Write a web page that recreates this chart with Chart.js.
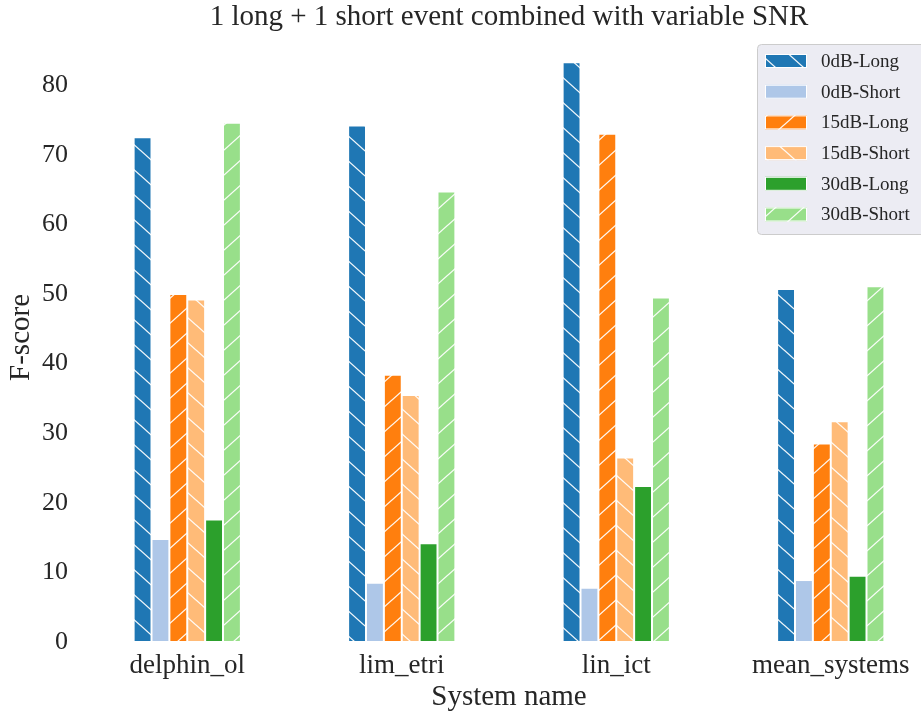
<!DOCTYPE html>
<html><head><meta charset="utf-8">
<script src="https://cdn.jsdelivr.net/npm/chart.js@4/dist/chart.umd.min.js"></script>
<style>html,body{margin:0;padding:0;background:#fff;overflow:hidden}#wrap{width:921px;height:713px;overflow:hidden}canvas{display:block}</style>
</head><body><div id="wrap"><canvas id="c" width="938" height="713"></canvas></div>
<script>
const categories = ['delphin_ol', 'lim_etri', 'lin_ict', 'mean_systems'];
const seriesNames = ['0dB-Long', '0dB-Short', '15dB-Long', '15dB-Short', '30dB-Long', '30dB-Short'];
const long0   = [72.5, 74.2, 83.3, 50.7];
const short0  = [14.8, 8.5, 7.8, 8.9];
const long15  = [50.0, 38.4, 73.0, 28.5];
const short15 = [49.2, 35.5, 26.5, 31.7];
const long30  = [17.6, 14.2, 22.4, 9.5];
const short30 = [74.6, 64.7, 49.5, 51.1];
const yTicks  = [0, 10, 20, 30, 40, 50, 60, 70, 80];

const seriesValues = [long0, short0, long15, short15, long30, short30];
const colors = ['#1f77b4', '#aec7e8', '#ff7f0e', '#ffbb78', '#2ca02c', '#98df8a'];
const hatches = ['\\', '', '/', '\\', '', '/'];
const FONT = "'Liberation Serif', 'DejaVu Serif', serif";
const TXT = '#262626';

function makeFill(color, hatch) {
  if (!hatch) return color;
  const w = 28, h = 25;
  const cv = document.createElement('canvas');
  cv.width = w; cv.height = h;
  const g = cv.getContext('2d');
  g.fillStyle = color; g.fillRect(0, 0, w, h);
  g.strokeStyle = 'rgba(255,255,255,0.95)';
  g.lineWidth = 1.3;
  const shifts = [[0,0],[w,0],[-w,0],[0,h],[0,-h]];
  for (const [dx, dy] of shifts) {
    g.beginPath();
    if (hatch === '/') { g.moveTo(dx, dy + h); g.lineTo(dx + w, dy); }
    else { g.moveTo(dx, dy); g.lineTo(dx + w, dy + h); }
    g.stroke();
  }
  return g.createPattern(cv, 'repeat');
}
const fills = colors.map((c, i) => makeFill(c, hatches[i]));

const legendPlugin = {
  id: 'boxLegend',
  afterDatasetsDraw(chart) {
    const ctx = chart.ctx;
    ctx.save();
    const x0 = 757.5, y0 = 44.5, w = 190, h = 190, r = 4;
    ctx.beginPath();
    ctx.moveTo(x0 + r, y0); ctx.lineTo(x0 + w, y0); ctx.lineTo(x0 + w, y0 + h);
    ctx.lineTo(x0 + r, y0 + h); ctx.arcTo(x0, y0 + h, x0, y0 + h - r, r);
    ctx.lineTo(x0, y0 + r); ctx.arcTo(x0, y0, x0 + r, y0, r); ctx.closePath();
    ctx.fillStyle = 'rgba(234,234,242,0.9)'; ctx.fill();
    ctx.strokeStyle = '#cccccc'; ctx.lineWidth = 1; ctx.stroke();
    chart.data.datasets.forEach((ds, i) => {
      const cy = 61 + i * 30.7;
      ctx.fillStyle = ds.backgroundColor;
      ctx.fillRect(765, cy - 7, 42, 14);
      ctx.strokeStyle = '#ffffff'; ctx.lineWidth = 1;
      ctx.strokeRect(765.5, cy - 6.5, 41, 13);
      ctx.fillStyle = TXT;
      ctx.font = '19px ' + FONT;
      ctx.textBaseline = 'middle'; ctx.textAlign = 'left';
      ctx.fillText(ds.label, 821, cy + 1);
    });
    ctx.restore();
  }
};

new Chart(document.getElementById('c'), {
  type: 'bar',
  data: {
    labels: categories,
    datasets: seriesNames.map((name, i) => ({
      label: name,
      data: seriesValues[i],
      backgroundColor: fills[i],
      borderColor: '#ffffff',
      borderWidth: 1,
      borderSkipped: false,
      categoryPercentage: 0.5,
      barPercentage: 1.0
    }))
  },
  options: {
    responsive: false,
    animation: false,
    devicePixelRatio: 1,
    layout: { padding: { left: 0, right: 0, top: 0, bottom: 0 } },
    plugins: {
      legend: { display: false },
      tooltip: { enabled: false },
      title: {
        display: true,
        text: '1 long + 1 short event combined with variable SNR',
        fullSize: false,
        color: TXT,
        font: { family: FONT, size: 29, weight: 'normal', lineHeight: 1.1 },
        padding: { top: 1, bottom: 0 }
      }
    },
    scales: {
      x: {
        grid: { display: false, drawTicks: false },
        border: { display: false },
        ticks: { color: TXT, font: { family: FONT, size: 27 }, padding: 8, maxRotation: 0, autoSkip: false },
        title: { display: true, text: 'System name', color: TXT, font: { family: FONT, size: 29, lineHeight: 1.1 }, padding: { top: 0, bottom: 0 } },
        afterFit(s) { s.height = 71; }
      },
      y: {
        min: 0, max: 87.5,
        grid: { display: false, drawTicks: false },
        border: { display: false },
        afterBuildTicks(s) { s.ticks = yTicks.map(v => ({ value: v })); },
        ticks: { color: TXT, font: { family: FONT, size: 26 }, padding: 12 },
        title: { display: true, text: 'F-score', color: TXT, font: { family: FONT, size: 29, lineHeight: 1.1 }, padding: { top: 5, bottom: 0 } },
        afterFit(s) { s.width = 80; }
      }
    }
  },
  plugins: [legendPlugin]
});
</script>
</body></html>
